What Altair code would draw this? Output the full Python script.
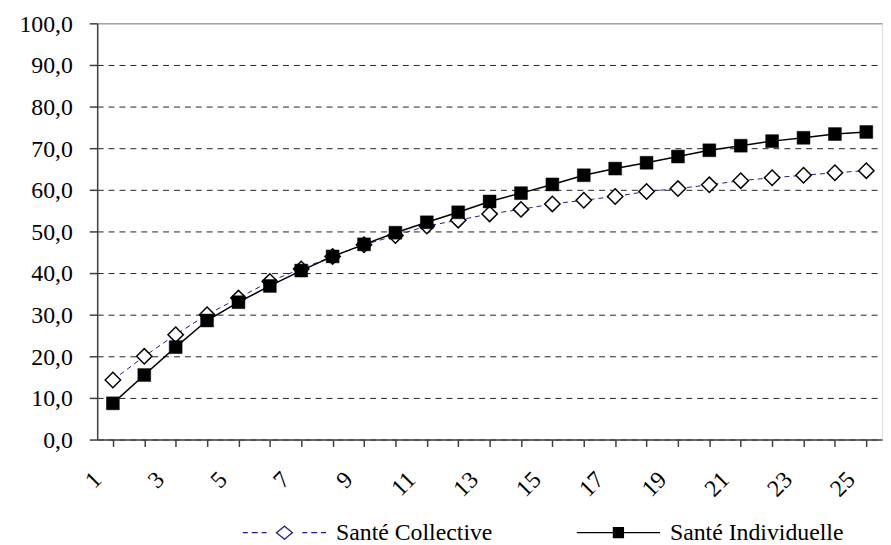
import altair as alt
import pandas as pd

categories = list(range(1, 26))
collective = [14.3, 20.0, 25.2, 30.0, 34.0, 38.0, 41.0, 44.0, 46.8, 49.0, 51.3, 52.7, 54.2,
              55.3, 56.6, 57.5, 58.4, 59.6, 60.3, 61.2, 62.2, 62.9, 63.5, 64.1, 64.6]
individuelle = [8.7, 15.5, 22.2, 28.6, 33.0, 36.9, 40.6, 44.0, 46.9, 49.7, 52.2, 54.6, 57.2,
                59.2, 61.3, 63.5, 65.1, 66.5, 68.0, 69.5, 70.6, 71.7, 72.5, 73.4, 73.9]
series = ["Santé Collective", "Santé Individuelle"]
y_ticks = list(range(0, 101, 10))

rows = []
for c, v in zip(categories, collective):
    rows.append({"serie": series[0], "x": c, "y": v})
for c, v in zip(categories, individuelle):
    rows.append({"serie": series[1], "x": c, "y": v})
df = pd.DataFrame(rows)

FONT = "Liberation Serif"
FS = 24

x_enc = alt.X(
    "x:O",
    sort=categories,
    scale=alt.Scale(paddingInner=0, paddingOuter=0),
    axis=alt.Axis(
        title=None, bandPosition=0, labelAngle=-45, labelAlign="right", labelBaseline="top",
        labelPadding=21, labelOffset=-24, tickSize=7, tickColor="#404040", tickWidth=1.5,
        domainColor="#404040", domainWidth=1.5, labelFont=FONT, labelFontSize=FS,
        labelColor="black", grid=False,
        labelExpr="datum.value % 2 == 1 ? datum.label : ''",
    ),
)
y_enc = alt.Y(
    "y:Q",
    scale=alt.Scale(domain=[0, 100], nice=False, zero=True),
    axis=alt.Axis(
        title=None, values=y_ticks, tickSize=8, tickColor="#404040", tickWidth=1.5,
        domainColor="#404040", domainWidth=1.5, labelPadding=17, labelOffset=1,
        labelFont=FONT, labelFontSize=FS, labelColor="black",
        labelExpr="replace(format(datum.value, '.1f'), '.', ',')",
        grid=True,
        gridDash={"condition": {"test": "datum.value === 100", "value": []}, "value": [6, 5]},
        gridColor={"condition": {"test": "datum.value === 100", "value": "#808080"}, "value": "#222222"},
        gridWidth=1,
    ),
)

P_COLL = ("M-3.5,0L-3.08,0M-2.75,0L-2.25,0M-1.92,0L-1.5,0"
          "M1.5,0L1.92,0M2.25,0L2.75,0M3.08,0L3.5,0"
          "M-0.667,0L0,-0.55L0.667,0L0,0.55Z")
P_IND = "M-3.5,0L-0.42,0M0.42,0L3.5,0M-0.42,-0.42L0.42,-0.42L0.42,0.42L-0.42,0.42Z"
is_coll = "datum.value === 'Santé Collective'"

legend = alt.Legend(
    title=None, orient="none", legendX=176, legendY=501, direction="horizontal",
    symbolSize=576, labelOffset=39, columnPadding=82, padding=0,
    labelFont=FONT, labelFontSize=FS, labelColor="black", labelLimit=400,
    symbolType={"expr": f"{is_coll} ? '{P_COLL}' : '{P_IND}'"},
    symbolFillColor={"expr": f"{is_coll} ? 'white' : 'black'"},
    symbolStrokeColor={"expr": f"{is_coll} ? '#202070' : 'black'"},
    symbolStrokeWidth=1.3, symbolDash=[1, 0], symbolOpacity=1,
)

color_scale = alt.Scale(domain=series, range=["#1c1c8c", "#000000"])

base = alt.Chart(df).encode(x=x_enc, y=y_enc)

coll_line = base.transform_filter(alt.datum.serie == series[0]).mark_line(
    strokeWidth=1, strokeDash=[5, 4]
).encode(color=alt.Color("serie:N", scale=color_scale, legend=legend))
coll_pts = base.transform_filter(alt.datum.serie == series[0]).mark_point(
    shape="diamond", size=240, filled=True, fill="white", stroke="black", strokeWidth=1.5, opacity=1
)
ind_line = base.transform_filter(alt.datum.serie == series[1]).mark_line(
    strokeWidth=1.5
).encode(color=alt.Color("serie:N", scale=color_scale, legend=legend))
ind_pts = base.transform_filter(alt.datum.serie == series[1]).mark_point(
    shape="square", size=169, filled=True, fill="black", stroke="black", strokeWidth=0.5, opacity=1
)

chart = alt.layer(coll_line, coll_pts, ind_line, ind_pts).properties(
    width=792, height=420,
    autosize=alt.AutoSizeParams(type="none"),
    padding={"left": 90, "top": 13, "right": 1, "bottom": 110},
).configure_view(stroke=None).configure(background="white")

chart.save("out.html", embed_options={"renderer": "svg", "actions": False})
